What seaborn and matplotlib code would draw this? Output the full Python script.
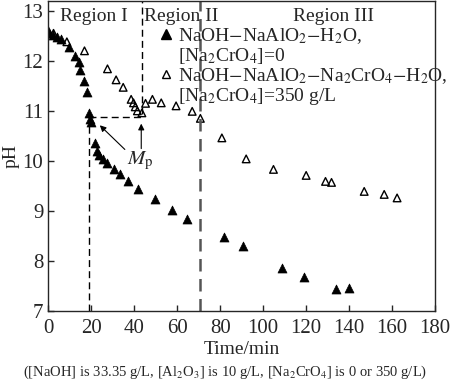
import matplotlib
matplotlib.use("Agg")
import matplotlib.pyplot as plt
import seaborn as sns
import pandas as pd
from matplotlib.lines import Line2D

# pH vs time, NaOH-NaAlO2-H2O
t_free = [0.5, 2.2, 4.0, 5.9, 9.5, 12.6, 14.4, 15.0, 16.7, 18.0, 18.8, 19.5, 20.0,
          21.7, 22.8, 23.6, 25.3, 27.3, 30.8, 33.6, 37.1, 41.7, 49.9, 57.7, 64.7,
          82.0, 90.7, 108.9, 119.0, 134.1, 140.0]
ph_free = [12.55, 12.51, 12.48, 12.43, 12.28, 12.10, 11.98, 11.81, 11.60, 11.37, 10.95,
           10.84, 10.77, 10.35, 10.19, 10.11, 10.03, 9.96, 9.84, 9.73, 9.59, 9.44, 9.24,
           9.01, 8.84, 8.47, 8.29, 7.86, 7.67, 7.43, 7.45]

# pH vs time, NaOH-NaAlO2-Na2CrO4-H2O
t_cr = [0.1, 2.5, 8.7, 16.9, 27.6, 31.6, 34.9, 38.6, 39.7, 40.5, 41.5, 43.6, 45.3,
        48.5, 52.6, 59.5, 67.0, 70.8, 80.8, 92.1, 104.8, 120.0, 129.0, 131.8, 147.0,
        156.3, 162.3]
ph_cr = [12.60, 12.55, 12.38, 12.20, 11.84, 11.62, 11.47, 11.23, 11.16, 11.08, 11.00,
         10.96, 11.15, 11.23, 11.16, 11.10, 10.99, 10.85, 10.46, 10.04, 9.83, 9.71, 9.59,
         9.57, 9.39, 9.33, 9.26]

# region boundaries and the Mp level
t_mp_free = 19.0
t_mp_cr = 43.6
t_region3 = 70.7
ph_mp = 10.88

df_free = pd.DataFrame({"t": t_free, "pH": ph_free})
df_cr = pd.DataFrame({"t": t_cr, "pH": ph_cr})

sns.set_style("ticks")
plt.rcParams["font.family"] = ["Liberation Serif", "DejaVu Serif"]
plt.rcParams["mathtext.fontset"] = "stix"
plt.rcParams["xtick.direction"] = "in"
plt.rcParams["ytick.direction"] = "in"

fig = plt.figure(figsize=(4.5, 3.83), dpi=100)
ax = fig.add_axes([0.107, 0.188, 0.86, 0.81])

sns.scatterplot(data=df_free, x="t", y="pH", marker="^", s=42, color="black",
                edgecolor="black", linewidth=0.5, ax=ax)
sns.scatterplot(data=df_cr, x="t", y="pH", marker="^", s=30, color="black",
                linewidth=1.0, ax=ax)
open_pts = ax.collections[-1]
open_pts.set_facecolor("none")
open_pts.set_edgecolor("black")

# dashed guides
ax.plot([t_mp_free, t_mp_free], [7, ph_mp], ls=(0, (5, 3)), color="black", lw=1)
ax.plot([t_mp_free, t_mp_cr], [ph_mp, ph_mp], ls=(0, (5, 3)), color="black", lw=1)
ax.plot([t_mp_cr, t_mp_cr], [ph_mp + 0.05, 13.2], ls=(0, (5, 3)), color="black", lw=1)
ax.plot([t_region3, t_region3], [7, 13.2], ls=(0, (5, 3)), color="#555555", lw=1.8)

# Mp annotation
ax.text(42.9, 10.0, r"$M_{\rm p}$", fontsize=15, ha="center", va="center")
arrow = dict(arrowstyle="-|>", color="black", lw=0.8, mutation_scale=9)
ax.annotate("", xy=(23.1, 10.75), xytext=(36.6, 10.19), arrowprops=arrow)
ax.annotate("", xy=(43.3, 10.80), xytext=(43.3, 10.19), arrowprops=arrow)

# region labels
ax.text(5.5, 12.88, "Region I", fontsize=14, va="center")
ax.text(44.8, 12.88, "Region II", fontsize=14, va="center")
ax.text(114, 12.88, "Region III", fontsize=14, va="center")

blank = Line2D([], [], linestyle="none")
h_free = Line2D([], [], linestyle="none", marker="^", color="black", markersize=7)
h_cr = Line2D([], [], linestyle="none", marker="^", markerfacecolor="none",
              markeredgecolor="black", markersize=6, markeredgewidth=1.0)
labels = [r"NaOH$-$NaAlO$_2$$-$H$_2$O,", r"[Na$_2$CrO$_4$]=0",
          r"NaOH$-$NaAlO$_2$$-$Na$_2$CrO$_4$$-$H$_2$O,", r"[Na$_2$CrO$_4$]=350 g/L"]
ax.legend([h_free, blank, h_cr, blank], labels, loc="upper left",
          bbox_to_anchor=(0.29, 0.918), frameon=False, fontsize=14,
          handlelength=0.6, handletextpad=0.32, labelspacing=0.0,
          borderpad=0, borderaxespad=0)

ax.set_xlim(0, 180)
ax.set_ylim(7, 13.2)
ax.set_xticks(range(0, 181, 20))
ax.set_yticks(range(7, 14))
ax.tick_params(labelsize=15, length=4, width=1)
ax.tick_params(axis="x", pad=6)
ax.set_xlabel("Time/min", fontsize=14, labelpad=2)
ax.set_ylabel("pH", fontsize=14, labelpad=2)
for sp in ax.spines.values():
    sp.set_linewidth(1)
    sp.set_visible(True)

fig.text(0.5, 1 - 372 / 383,
         r"([NaOH] is 33.35 g/L, [Al$_2$O$_3$] is 10 g/L, [Na$_2$CrO$_4$] is 0 or 350 g/L)",
         ha="center", va="center", fontsize=10.5)

fig.savefig("out.png", dpi=100)
